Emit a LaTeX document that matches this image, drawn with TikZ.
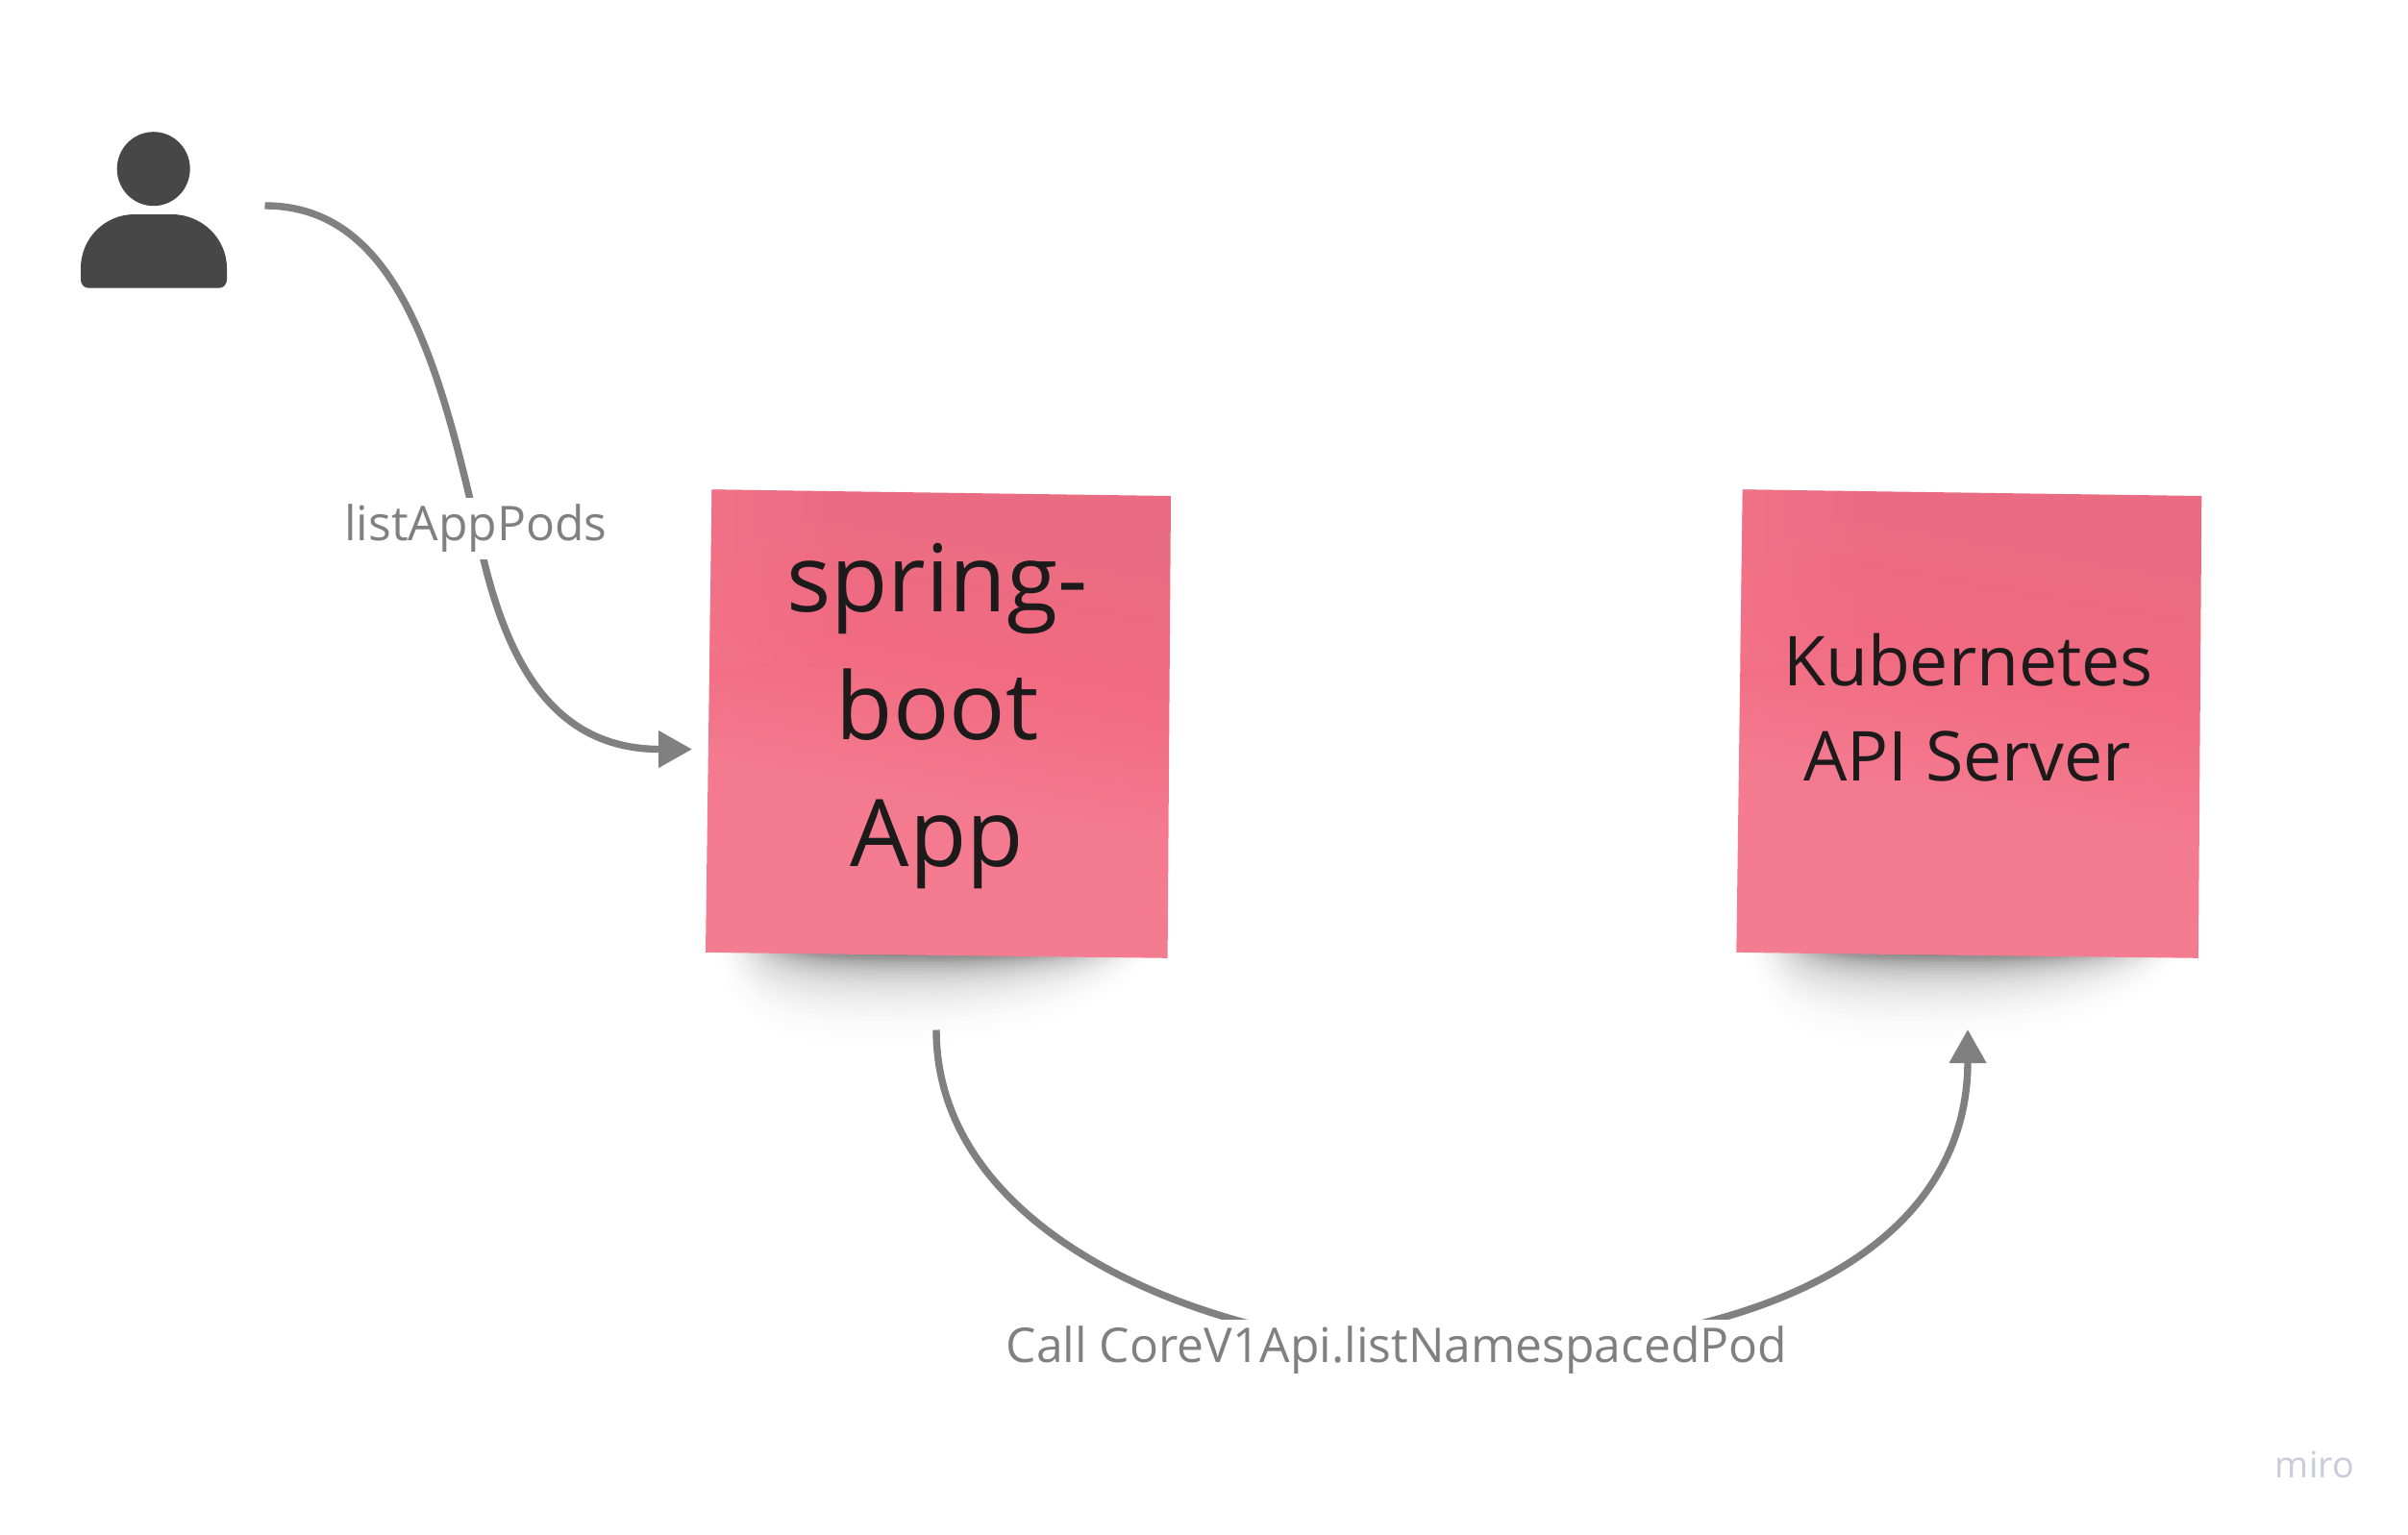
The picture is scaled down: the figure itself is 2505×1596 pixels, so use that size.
\documentclass[tikz,border=0pt]{standalone}
\usepackage{fontspec}
\setmainfont{Open Sans}
\usetikzlibrary{arrows.meta,fadings}
\definecolor{wire}{HTML}{808080}
\definecolor{person}{HTML}{474747}
\definecolor{ink}{HTML}{1C1A1B}
\definecolor{wm}{HTML}{CBCBD9}
\definecolor{pkA}{HTML}{F37C91}
\definecolor{pkB}{HTML}{F47A8F}
\definecolor{pkC}{HTML}{F16B81}
\definecolor{pkD}{HTML}{E96C82}
\pgfdeclareverticalshading{stickypink}{100bp}{color(0bp)=(pkA); color(25bp)=(pkA); color(42bp)=(pkB); color(56bp)=(pkC); color(75bp)=(pkD); color(100bp)=(pkD)}
\tikzset{
  conn/.style={draw=wire,line width=3.7pt,-{Triangle[length=17.5pt,width=18.5pt]}},
  wlabel/.style={fill=white,text=wire,inner sep=0pt,anchor=base,text height=22pt,text depth=10pt,font=\fontsize{24.9pt}{30pt}\selectfont},
  stickytext/.style={text=ink,inner sep=0pt,anchor=base},
  bigtext/.style={stickytext,font=\fontsize{48.5pt}{58pt}\selectfont},
  midtext/.style={stickytext,font=\fontsize{35.8pt}{44pt}\selectfont},
  stickyfill/.style={shading=stickypink,shading angle=-10},
}
\begin{document}
\begin{tikzpicture}[x=0.5pt,y=-0.5pt]
\useasboundingbox (0,0) rectangle (2505,1596);
\fill[white] (0,0) rectangle (2505,1596);
% person icon
\fill[person] (159.7,175.7) ellipse (38 and 38.5);
\fill[person] (84,279) .. controls (84,248) and (109,223) .. (140,223) -- (178.6,223)
  .. controls (210,223) and (236,248) .. (236,279) -- (236,291)
  .. controls (236,296) and (232,299.7) .. (228,299.7) -- (92,299.7)
  .. controls (88,299.7) and (84,296) .. (84,291) -- cycle;
% stickies with shadows
\foreach \dx in {0,1072.3}{
  \begin{scope}[xshift=\dx*0.5pt]
    \foreach \i in {0,...,40}{
      \pgfmathsetmacro\f{\i/40}
      \pgfmathsetmacro\d{3+92*\f^2.2}
      \pgfmathsetmacro\xl{830-85*\f}
      \pgfmathsetmacro\xr{1140+62*\f}
      \pgfmathsetmacro\op{0.003+0.028*(1-\f)}
      \fill[black,opacity=\op] (\xl,975) .. controls (\xl+10,990+\d*0.9) and (\xl+70,990+\d*1.05) .. (\xl+190,990+\d)
        .. controls (\xr-150,990+\d*0.98) and (\xr-20,990+\d*0.6) .. (\xr,975) -- cycle;
    }
    \path[stickyfill] (740.5,509.3) -- (1218,516) -- (1214.6,996.8) -- (734,990.9) -- cycle;
    \fill[pkB!70!pkC,opacity=0.6,path fading=east] (740.5,509.3) -- (880,511.3) -- (878,690) -- (738,690) -- cycle;
  \end{scope}
}
\coordinate (s1) at (275.5,214);
\coordinate (s1m) at (496,550);
\coordinate (s1e) at (720,779.5);
\coordinate (s2) at (974,1071.5);
\coordinate (s2m) at (1511,1405);
\coordinate (s2e) at (2047,1071);
\draw[conn] (s1) .. controls (410,214) and (455,370) .. (s1m)
  .. controls (522,680) and (570,779.5) .. (s1e);
\draw[conn] (s2) .. controls (974,1290) and (1270,1405) .. (s2m)
  .. controls (1850,1405) and (2047,1290) .. (s2e);
\node[wlabel] (lab1) at (495,562) {listAppPods};
\node[wlabel] (lab2) at (1453,1417) {Call CoreV1Api.listNamespacedPod};
\node[bigtext] (a1) at (975,636.5) {spring-};
\node[bigtext] (a2) at (975,769) {boot};
\node[bigtext] (a3) at (975,901.5) {App};
\node[midtext] (b1) at (2047.5,713.5) {Kubernetes};
\node[midtext] (b2) at (2046.5,812) {API Server};
\node[text=wm,inner sep=0pt,anchor=base,font=\fontsize{18.9pt}{22pt}\selectfont] (wm) at (2408,1537) {miro};
\end{tikzpicture}
\end{document}
